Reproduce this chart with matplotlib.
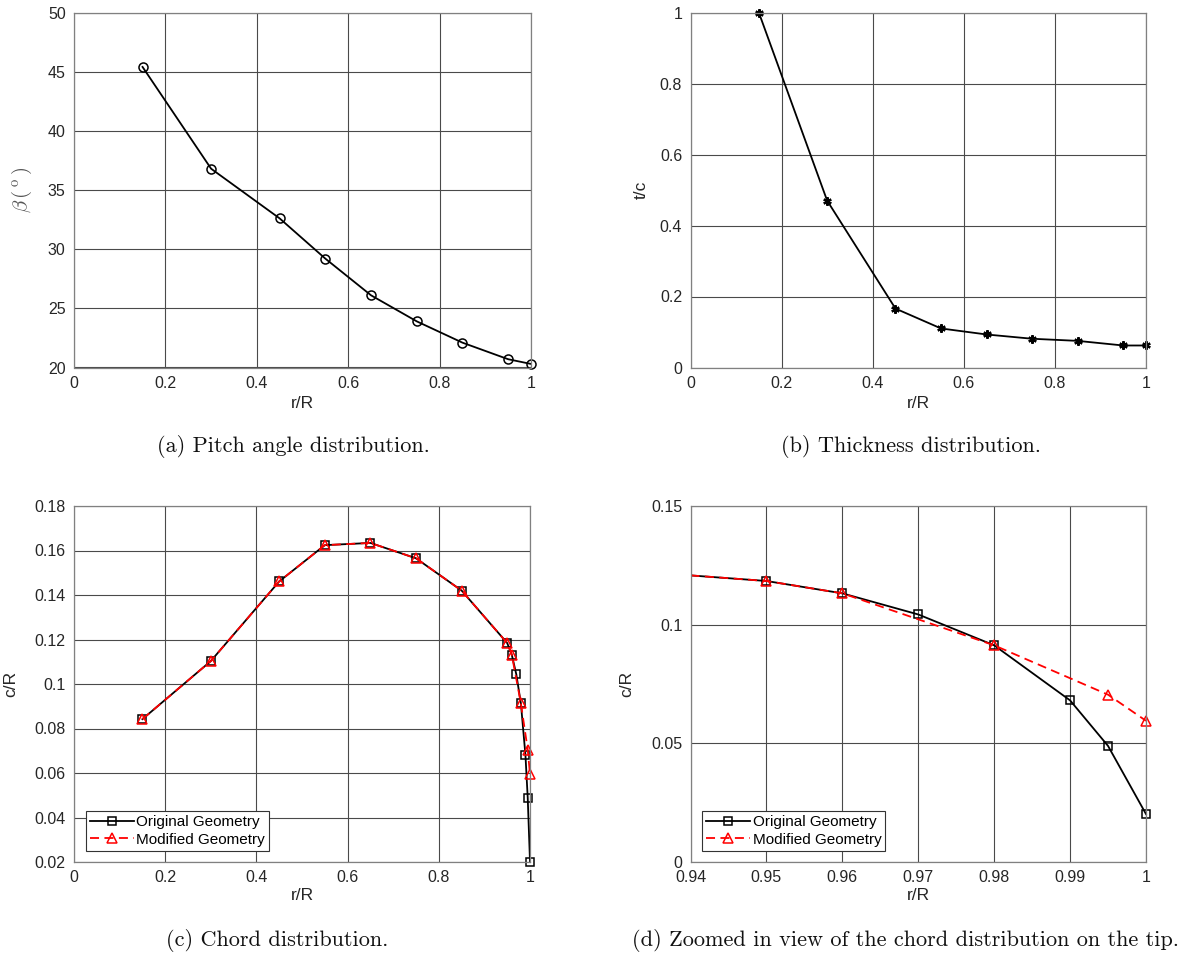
import matplotlib
matplotlib.use("Agg")
import matplotlib.pyplot as plt
from matplotlib.patches import Rectangle

# ---- data ----
r_pitch = [0.15, 0.30, 0.45, 0.55, 0.65, 0.75, 0.85, 0.95, 1.00]
beta_deg = [45.4, 36.8, 32.6, 29.2, 26.1, 23.9, 22.1, 20.7, 20.3]

r_thick = [0.15, 0.30, 0.45, 0.55, 0.65, 0.75, 0.85, 0.95, 1.00]
t_c = [1.0, 0.47, 0.166, 0.11, 0.093, 0.081, 0.075, 0.062, 0.062]

r_orig = [0.15, 0.30, 0.45, 0.55, 0.65, 0.75, 0.85, 0.95, 0.96, 0.97, 0.98, 0.99, 0.995, 1.00]
c_orig = [0.0842, 0.1103, 0.1461, 0.1624, 0.1634, 0.1565, 0.1420, 0.1184, 0.1132, 0.1043,
          0.0913, 0.0681, 0.0489, 0.0202]

r_mod = [0.15, 0.30, 0.45, 0.55, 0.65, 0.75, 0.85, 0.95, 0.96, 0.98, 0.995, 1.00]
c_mod = [0.0842, 0.1103, 0.1461, 0.1624, 0.1634, 0.1565, 0.1420, 0.1184, 0.1132,
         0.0913, 0.0705, 0.0595]

captions = ["(a) Pitch angle distribution.", "(b) Thickness distribution.",
            "(c) Chord distribution.", "(d) Zoomed in view of the chord distribution on the tip."]

plt.rcParams['font.family'] = ['Liberation Sans', 'DejaVu Sans']
plt.rcParams['mathtext.fontset'] = 'cm'

W, H = 1190, 956
fig = plt.figure(figsize=(W / 100, H / 100), dpi=100)

def ax_at(l, r, t, b):
    return fig.add_axes([l / W, 1 - b / H, (r - l) / W, (b - t) / H])

tick_col = '#262626'
grid_col = '#4a4a4a'

def style(ax):
    ax.grid(True, color=grid_col, linewidth=0.8)
    ax.set_axisbelow(True)
    for s in ax.spines.values():
        s.set_color('#808080')
        s.set_linewidth(0.9)
    ax.tick_params(direction='in', length=0, labelsize=11.5, colors=tick_col, pad=6)

axa = ax_at(74, 531, 12.5, 367.5)
axb = ax_at(690.5, 1146, 12.5, 367.5)
axc = ax_at(74, 530, 506, 862)
axd = ax_at(690.5, 1146, 506, 862)

# (a)
axa.plot(r_pitch, beta_deg, color='k', lw=1.3, marker='o', ms=6.5, mfc='none', mec='k', mew=1.1,
         clip_on=False)
axa.set_xlim(0, 1); axa.set_ylim(20, 50)
axa.set_xticks([0, 0.2, 0.4, 0.6, 0.8, 1]); axa.set_xticklabels(['0', '0.2', '0.4', '0.6', '0.8', '1'])
axa.set_yticks([20, 25, 30, 35, 40, 45, 50])
axa.set_xlabel('r/R', fontsize=12.5, color=tick_col, labelpad=4)
axa.set_ylabel(r'$\beta\,(\,^{\rm o}\,)$', fontsize=15, color='#555555', labelpad=10)
style(axa)

# (b)
axb.plot(r_thick, t_c, color='k', lw=1.3, marker=(6, 2, 0), ms=6, mfc='k', mec='k', mew=1.6,
         clip_on=False)
axb.set_xlim(0, 1); axb.set_ylim(0, 1)
axb.set_xticks([0, 0.2, 0.4, 0.6, 0.8, 1]); axb.set_xticklabels(['0', '0.2', '0.4', '0.6', '0.8', '1'])
axb.set_yticks([0, 0.2, 0.4, 0.6, 0.8, 1]); axb.set_yticklabels(['0', '0.2', '0.4', '0.6', '0.8', '1'])
axb.set_xlabel('r/R', fontsize=12.5, color=tick_col, labelpad=4)
axb.set_ylabel('t/c', fontsize=12.5, color=tick_col, labelpad=8)
style(axb)

# (c) and (d)
for ax in (axc, axd):
    l1, = ax.plot(r_orig, c_orig, color='k', lw=1.3, marker='s', ms=5.5, mfc='none', mec='k', mew=1.1,
                  label='Original Geometry')
    l2, = ax.plot(r_mod, c_mod, color='#ff0000', lw=1.3, ls=(0, (5, 3)), marker='^', ms=7.5, mfc='none',
                  mec='#ff0000', mew=1.1, label='Modified Geometry')
    # clip exactly on the left/top, leave room for edge markers on the right/bottom
    for ln in (l1, l2):
        clip = Rectangle((0, -0.04), 1.04, 1.04, transform=ax.transAxes)
        ln.set_clip_path(clip)
    ax.set_xlabel('r/R', fontsize=12.5, color=tick_col, labelpad=2)
    ax.set_ylabel('c/R', fontsize=12.5, color=tick_col, labelpad=12)
    style(ax)
    leg = ax.legend(loc='lower left', bbox_to_anchor=(0.026, 0.032), fontsize=11, frameon=True,
                    fancybox=False, edgecolor='#333333', framealpha=1, handlelength=2.9,
                    handletextpad=0.15, borderpad=0.25, labelspacing=0.25, borderaxespad=0.0)
    leg.get_frame().set_linewidth(0.8)

axc.set_xlim(0, 1); axc.set_ylim(0.02, 0.18)
axc.set_xticks([0, 0.2, 0.4, 0.6, 0.8, 1]); axc.set_xticklabels(['0', '0.2', '0.4', '0.6', '0.8', '1'])
axc.set_yticks([0.02, 0.04, 0.06, 0.08, 0.1, 0.12, 0.14, 0.16, 0.18])
axc.set_yticklabels(['0.02', '0.04', '0.06', '0.08', '0.1', '0.12', '0.14', '0.16', '0.18'])

axd.set_xlim(0.94, 1); axd.set_ylim(0, 0.15)
axd.set_xticks([0.94, 0.95, 0.96, 0.97, 0.98, 0.99, 1])
axd.set_xticklabels(['0.94', '0.95', '0.96', '0.97', '0.98', '0.99', '1'])
axd.set_yticks([0, 0.05, 0.1, 0.15]); axd.set_yticklabels(['0', '0.05', '0.1', '0.15'])

# captions
cap_pos = [(293, 447), (911, 447), (277, 941), (905, 941)]
for txt, (x, y) in zip(captions, cap_pos):
    fig.text(x / W, 1 - y / H, txt, ha='center', va='center', fontsize=16,
             family='cmr10', color='#111111')

fig.savefig('out.png', dpi=100)
